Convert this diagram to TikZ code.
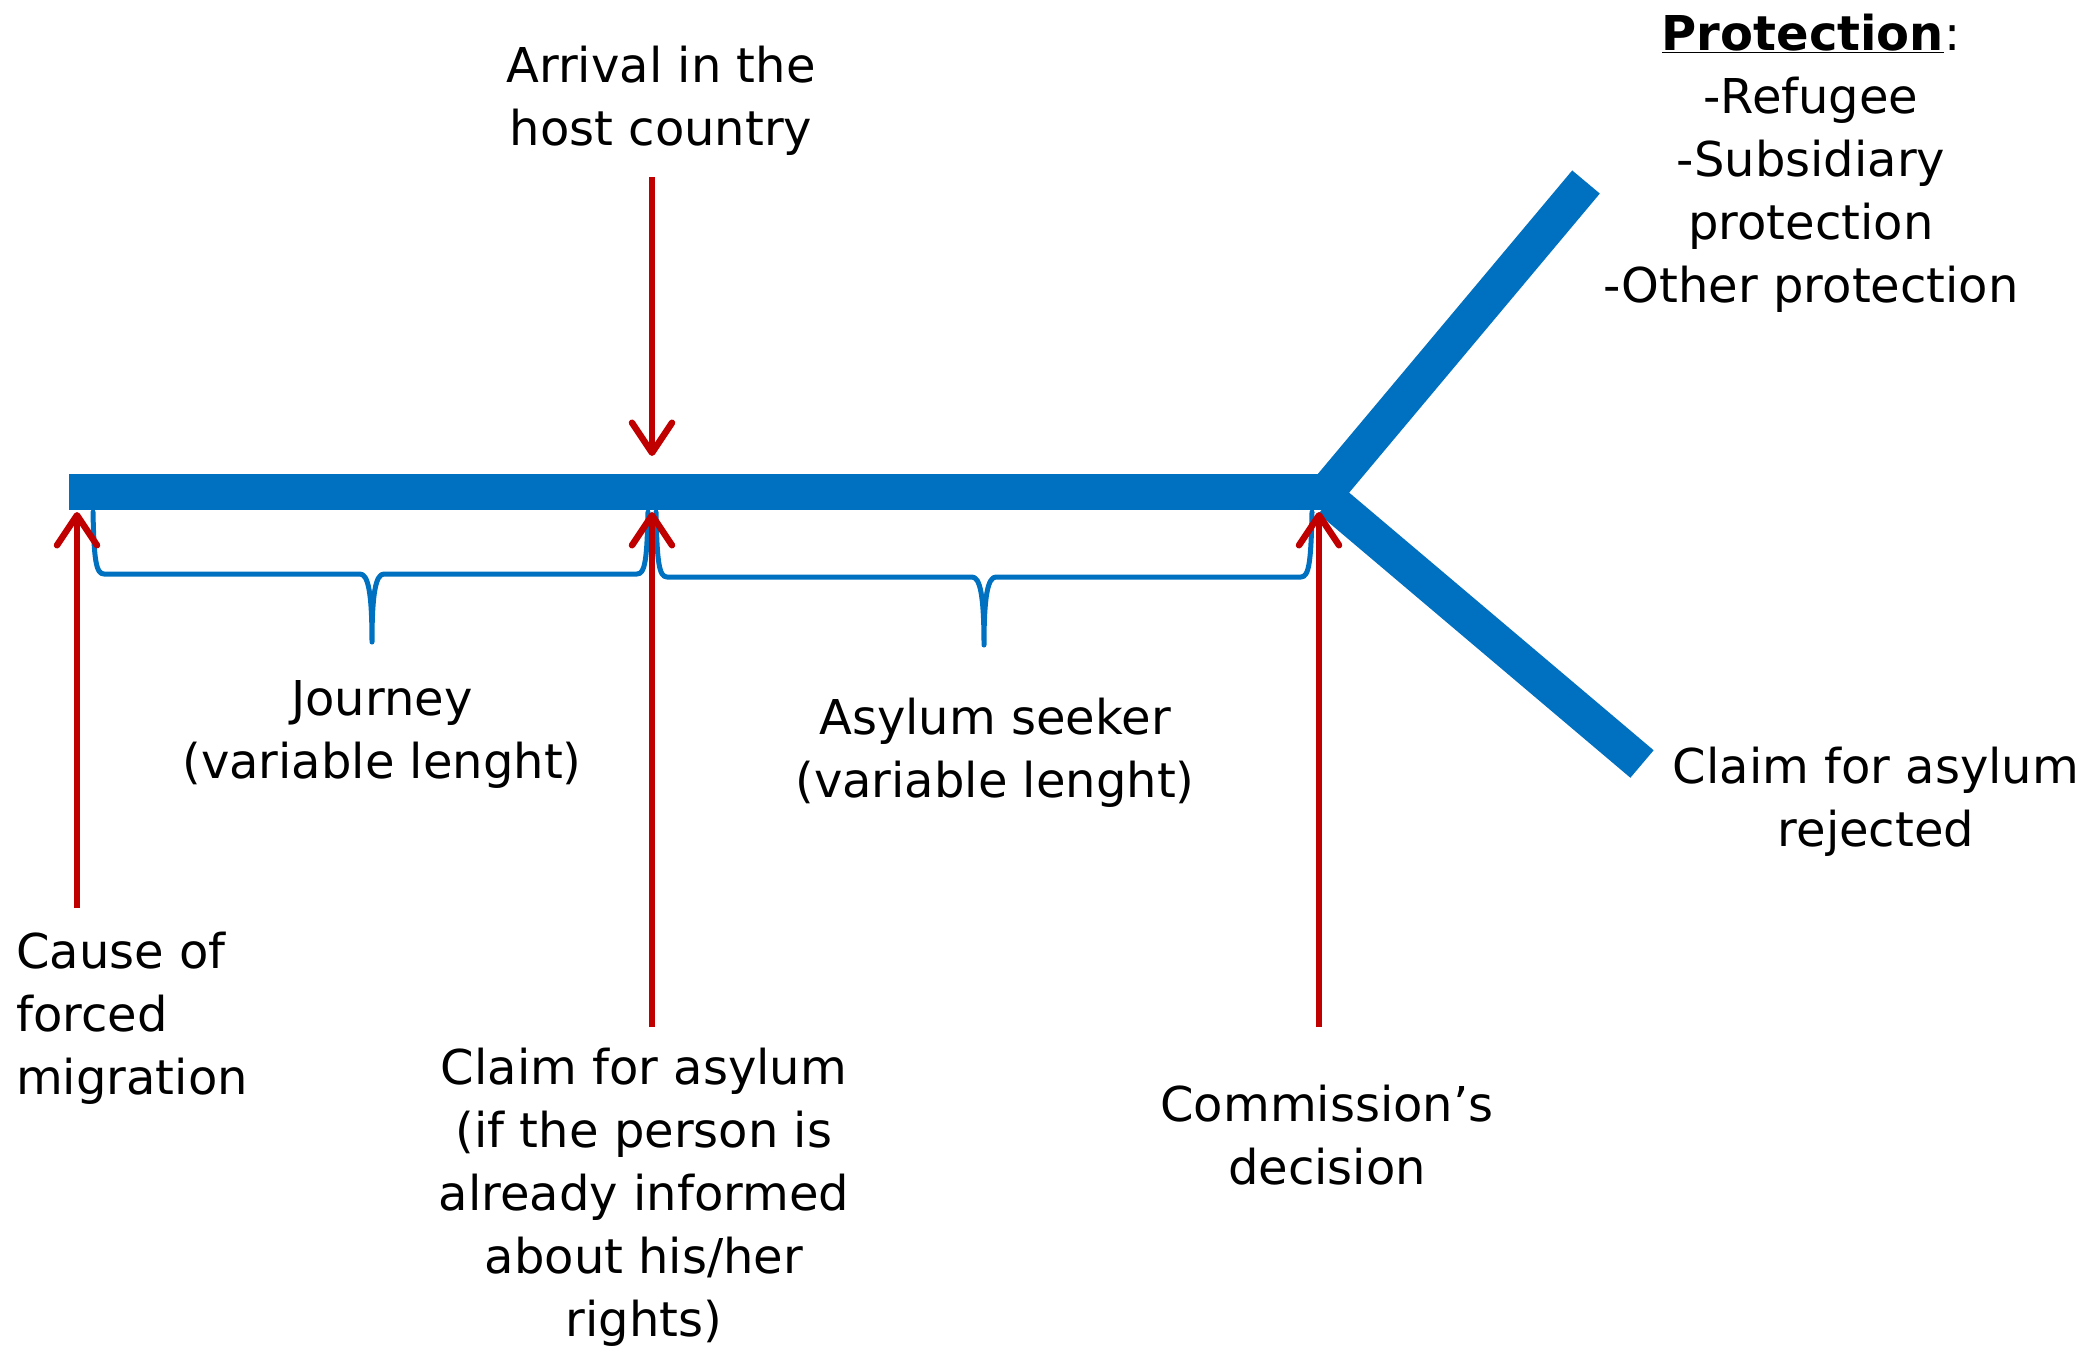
\documentclass[tikz,border=0pt]{standalone}
\usepackage{fontspec}
\setmainfont{DejaVu Sans}
\usetikzlibrary{arrows.meta}
\definecolor{barblue}{HTML}{0070C0}
\definecolor{arrred}{HTML}{C00000}
\begin{document}
\begin{tikzpicture}[x=1pt,y=-1pt,
  bar/.style={line width=36pt, barblue},
  redarrow/.style={line width=6.5pt, arrred, -{Straight Barb[length=30pt,width=40pt,round]}},
  bracestyle/.style={line width=5pt, barblue, line cap=round, line join=round},
  lbl/.style={inner sep=0pt, align=center, font=\fontsize{48}{63}\selectfont}]
\useasboundingbox (0,0) rectangle (2085,1357);
% main timeline
\coordinate (barL) at (69,492);
\coordinate (barR) at (1330,492);
\coordinate (upS) at (1322,497);
\coordinate (upE) at (1586,182);
\coordinate (loS) at (1330,500);
\coordinate (loE) at (1642,764);
\draw[bar] (barL) -- (barR);
\draw[bar] (upS) -- (upE);
\draw[bar] (loS) -- (loE);
% braces
\draw[bracestyle] (93,512) .. controls (94,560) and (96,574) .. (104,574) -- (360,574)
  .. controls (368,574) and (372,592) .. (372,642)
  .. controls (372,592) and (376,574) .. (384,574) -- (637,574)
  .. controls (645,574) and (647,560) .. (648,512);
\draw[bracestyle] (656,512) .. controls (657,562) and (659,577) .. (667,577) -- (972,577)
  .. controls (980,577) and (984,595) .. (984,645)
  .. controls (984,595) and (988,577) .. (996,577) -- (1301,577)
  .. controls (1309,577) and (1311,562) .. (1312,512);
% red arrows
\coordinate (a1s) at (77,908);   \coordinate (a1e) at (77,512);
\coordinate (a2s) at (652,1027); \coordinate (a2e) at (652,512);
\coordinate (a3s) at (1319,1027);\coordinate (a3e) at (1319,512);
\coordinate (a4s) at (652,177);  \coordinate (a4e) at (652,456);
\draw[redarrow] (a1s) -- (a1e);
\draw[redarrow] (a2s) -- (a2e);
\draw[redarrow] (a3s) -- (a3e);
\draw[redarrow] (a4s) -- (a4e);
% labels
\node[lbl] (arrival) at (661,101) {Arrival in the\\host country};
\node[lbl] (prot) at (1811,163) {\underline{\textbf{Protection}}:\\-Refugee\\-Subsidiary\\protection\\-Other protection};
\node[lbl] (journey) at (382,734) {Journey\\(variable lenght)};
\node[lbl] (seeker) at (995,753) {Asylum seeker\\(variable lenght)};
\node[lbl] (rejected) at (1876,802) {Claim for asylum\\rejected};
\node[lbl, align=left, anchor=west] (cause) at (16,1018) {Cause of\\forced\\migration};
\node[lbl] (claim) at (644,1197) {Claim for asylum\\(if the person is\\already informed\\about his/her\\rights)};
\node[lbl] (commission) at (1327,1135) {Commission’s\\decision};
\end{tikzpicture}
\end{document}
